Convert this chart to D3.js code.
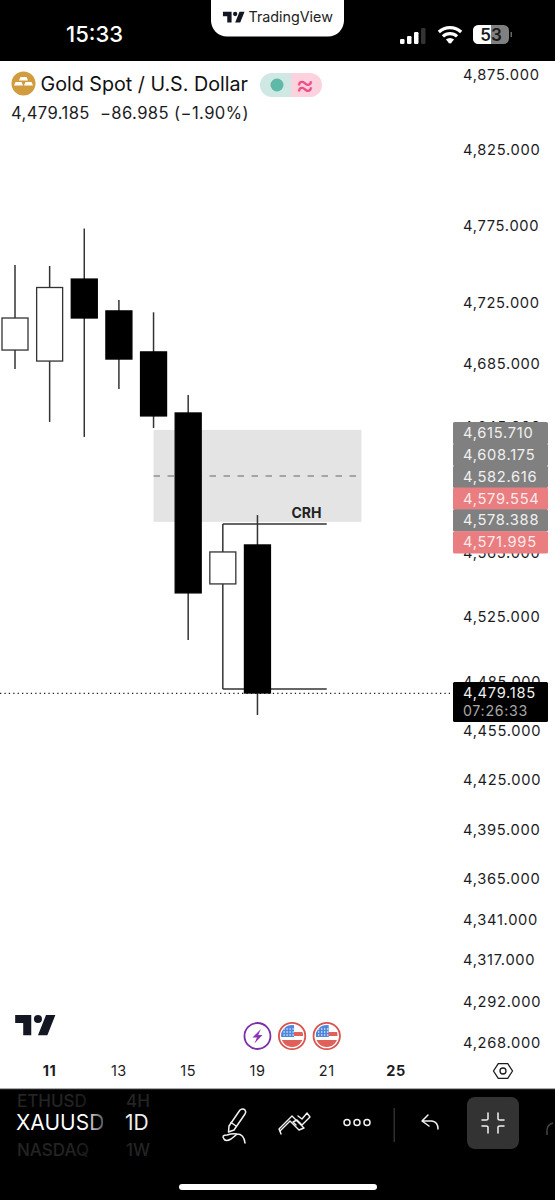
<!DOCTYPE html>
<html><head><meta charset="utf-8">
<script src="https://cdn.jsdelivr.net/npm/d3@7"></script>
<style>html,body{margin:0;padding:0;background:#fff}svg{display:block}text{font-family:Inter,"Noto Sans",sans-serif}</style>
</head><body><svg id="c" width="555" height="1200"></svg>
<script>
// ---- data ----
const slots=["10","11","12","13","14","15","16","19","20","21","22","25"];
const candleDays=["10","11","12","13","14","15","16","19"];
const opens=[4693.6,4686.5,4739.6,4718.9,4692.4,4653.2,4545.2,4569.6];
const highs=[4748.8,4748.1,4772.6,4726.0,4718.0,4664.7,4582.8,4588.4];
const lows=[4681.4,4647.5,4637.9,4668.6,4643.6,4510.3,4480.1,4464.1];
const closes=[4714.3,4734.1,4714.3,4687.8,4651.3,4539.6,4565.2,4477.6];
const priceTicks=[4875,4825,4775,4725,4685,4645,4605,4565,4525,4485,4455,4425,4395,4365,4341,4317,4292,4268];
const timeLabels=["11","13","15","19","21","25"];
const boldTimeLabels=["11","25"];
const zoneTop=4642.4, zoneMid=4613.1, zoneBottom=4584.1;
const zoneDays=["14","22"];
const crhHigh=4582.8, crhLow=4480.1, crhDays=["16","21"];
const lastPrice=4477.6;
const stackedTags=["4,615.710","4,608.175","4,582.616","4,579.554","4,578.388","4,571.995"];
const stackedKinds=["g","g","g","r","g","r"];
const eventDays=["19","20","21"];
const eventKinds=["bolt","flag","flag"];
const TV="M14 6H2v6h6v9h6V6Zm12 15h-7l6-15h7l-6 15Zm-7-9a3 3 0 1 0 0-6 3 3 0 0 0 0 6Z";

const svg=d3.select("#c");
const x=d3.scalePoint().domain(slots).range([15,396]);
const y=d3.scaleLog().domain([4875,4268]).range([74,1042]);
const fmt=d3.format(",.3f");
const ink="#1c1c1f";
const tickFont=14.7, tickLS=0.7;

// ---- price axis labels ----
const yAxis=d3.axisRight(y).tickValues(priceTicks).tickFormat(fmt).tickSize(0).tickPadding(0);
const ya=svg.append("g").attr("transform","translate(463,0.8)").call(yAxis);
ya.select(".domain").remove();
ya.selectAll("text").attr("font-size",tickFont).attr("letter-spacing",tickLS).attr("fill",ink).style("font-family","Inter");

// ---- zone ----
svg.append("rect").attr("x",x(zoneDays[0])).attr("width",x(zoneDays[1])-x(zoneDays[0]))
 .attr("y",y(zoneTop)).attr("height",y(zoneBottom)-y(zoneTop)).attr("fill","#e4e4e4");
svg.append("line").attr("x1",x(zoneDays[0])).attr("x2",x(zoneDays[1])).attr("y1",y(zoneMid)).attr("y2",y(zoneMid))
 .attr("stroke","#666").attr("stroke-width",1.1).attr("stroke-dasharray","6.500 7.500");

// ---- last price dotted ----
svg.append("line").attr("x1",0).attr("x2",450).attr("y1",y(lastPrice)+.3).attr("y2",y(lastPrice)+.3)
 .attr("stroke","#222").attr("stroke-width",1.2).attr("stroke-dasharray","1.3 3.1");

// ---- CRH lines ----
const cx0=x(crhDays[0]),cx1=x(crhDays[1]);
[crhHigh,crhLow].forEach(p=>svg.append("line").attr("x1",cx0).attr("x2",cx1).attr("y1",y(p)).attr("y2",y(p)).attr("stroke","#333").attr("stroke-width",1.4));
svg.append("text").attr("x",(x("20")+x("21"))/2-3).attr("y",y(crhHigh)-5.5).attr("text-anchor","middle").attr("font-size",14).attr("font-weight",700).attr("fill","#222").text("CRH");

// ---- candles ----
const cs=candleDays.map((d,i)=>({d,o:opens[i],h:highs[i],l:lows[i],c:closes[i]}));
const g=svg.append("g").selectAll("g").data(cs).join("g");
g.append("line").attr("x1",d=>x(d.d)).attr("x2",d=>x(d.d)).attr("y1",d=>y(d.h)).attr("y2",d=>y(d.l)).attr("stroke","#333").attr("stroke-width",1.5);
g.append("rect").attr("x",d=>x(d.d)-13).attr("width",26)
 .attr("y",d=>y(Math.max(d.o,d.c))).attr("height",d=>y(Math.min(d.o,d.c))-y(Math.max(d.o,d.c)))
 .attr("fill",d=>d.c>d.o?"#fff":"#000").attr("stroke",d=>d.c>d.o?"#333":"#000").attr("stroke-width",1.3);

// ---- stacked tags ----
const tagH=d3.scaleBand().domain(d3.range(stackedTags.length)).range([422,553]);
const tg=svg.append("g").selectAll("g").data(stackedTags).join("g");
tg.append("rect").attr("x",453).attr("width",95).attr("y",(d,i)=>tagH(i)).attr("height",tagH.bandwidth()+.4)
 .attr("rx",1.5).attr("fill",(d,i)=>stackedKinds[i]==="r"?"#e97d80":"#808080");
tg.append("text").attr("x",463).attr("y",(d,i)=>tagH(i)+tagH.bandwidth()/2).attr("dy","0.35em").attr("font-size",tickFont).attr("letter-spacing",tickLS)
 .attr("fill",(d,i)=>stackedKinds[i]==="r"?"#fdeaea":"#f0f0f0").text(d=>d);

// last price tag
svg.append("rect").attr("x",453).attr("y",682).attr("width",95).attr("height",40).attr("rx",1.5).attr("fill","#000");
svg.append("text").attr("x",463).attr("y",697.5).attr("font-size",tickFont).attr("letter-spacing",tickLS).attr("fill","#f0f0f0").text("4,479.185");
svg.append("text").attr("x",463).attr("y",715.5).attr("font-size",14.2).attr("letter-spacing",0.7).attr("fill","#a8a8a8").text("07:26:33");

// ---- time axis ----
const tx=svg.append("g").selectAll("text").data(timeLabels).join("text")
 .attr("x",d=>x(d)).attr("y",1076).attr("text-anchor","middle").attr("font-size",14.5).attr("letter-spacing",0.6)
 .attr("font-weight",d=>boldTimeLabels.includes(d)?700:400).attr("fill",ink).text(d=>d);

// hexagon
svg.append("path").attr("d",d3.line()(d3.range(6).map(i=>{const a=i*Math.PI/3;return [503+9.5*Math.cos(a),1071+8.5*Math.sin(a)]}))+"Z").attr("fill","none").attr("stroke",ink).attr("stroke-width",1.3);
svg.append("circle").attr("cx",503).attr("cy",1071).attr("r",3).attr("fill","none").attr("stroke",ink).attr("stroke-width",1.3);

// TV logo
svg.append("path").attr("d",TV).attr("transform","translate(12.5,1007) scale(1.34)").attr("fill","#131722");

// ---- events ----
const defs=svg.append("defs");
eventDays.forEach((d,i)=>{
  const cx=x(d),cy=1036;
  const e=svg.append("g");
  if(eventKinds[i]==="bolt"){
    e.append("circle").attr("cx",cx).attr("cy",cy).attr("r",13).attr("fill","#fff").attr("stroke","#7b2fa8").attr("stroke-width",1.8);
    e.append("path").attr("transform",`translate(${cx},${cy})`).attr("d","M3.500 -7L-5 1.500H-0.500L-3 7.500L5 -1H0.800Z").attr("fill","#8e35b5");
  } else {
    const id="cf"+i;
    defs.append("clipPath").attr("id",id).append("circle").attr("cx",cx).attr("cy",cy).attr("r",11);
    e.append("circle").attr("cx",cx).attr("cy",cy).attr("r",13.2).attr("fill","#fff").attr("stroke","#d9534f").attr("stroke-width",1.8);
    const f=e.append("g").attr("clip-path",`url(#${id})`);
    f.append("rect").attr("x",cx-11).attr("y",cy-4).attr("width",22).attr("height",4).attr("fill","#e0605a");
    f.append("rect").attr("x",cx-11).attr("y",cy+4).attr("width",22).attr("height",8).attr("fill","#e0605a");
    f.append("rect").attr("x",cx-11).attr("y",cy-11).attr("width",13).attr("height",12).attr("fill","#4f87dc");
    d3.range(3).forEach(r=>d3.range(4).forEach(c=>f.append("circle").attr("cx",cx-8+c*3).attr("cy",cy-7+r*3).attr("r",.7).attr("fill","#fff")));
  }
});

// ---- header ----
svg.append("circle").attr("cx",23.5).attr("cy",83.5).attr("r",12).attr("fill","#d09c3e");
svg.append("g").attr("fill","#fff").selectAll("path").data(["M20.500 77h6l1.500 3.600h-9z","M15.500 82h6l1.500 3.600h-9z","M25.500 82h6l1.500 3.600h-9z"]).join("path").attr("d",d=>d);
svg.append("text").attr("x",40.5).attr("y",91).attr("font-size",19.7).attr("fill","#111").text("Gold Spot / U.S. Dollar");
svg.append("text").attr("x",11).attr("y",119).attr("font-size",16.6).attr("letter-spacing",0.4).attr("fill",ink).style("white-space","pre").text("4,479.185  −86.985 (−1.90%)");
svg.append("path").attr("d","M291 73H272a12 12 0 0 0 0 24H291Z").attr("fill","#cfe8e3");
svg.append("path").attr("d","M291 73H310a12 12 0 0 1 0 24H291Z").attr("fill","#fdd2df");
svg.append("circle").attr("cx",277).attr("cy",85).attr("r",6.5).attr("fill","#5fb9a6");
svg.append("text").attr("x",305).attr("y",94).attr("text-anchor","middle").attr("font-size",28).attr("font-weight",400).attr("fill","#ee4f88").text("≈");

// ---- top bar ----
svg.append("rect").attr("x",0).attr("y",0).attr("width",555).attr("height",61).attr("fill","#000");
svg.append("path").attr("d","M211 0H344V20a16 16 0 0 1 -16 16.500H227a16 16 0 0 1 -16 -16.500Z").attr("fill","#fff");
svg.append("path").attr("d",TV).attr("transform","translate(221.5,7.5) scale(.72)").attr("fill","#131722");
svg.append("text").attr("x",248.5).attr("y",21.5).attr("font-size",14.3).attr("fill","#222").text("TradingView");
svg.append("text").attr("x",66).attr("y",42).attr("font-size",22).attr("font-weight",500).attr("fill","#fff").text("15:33");
const bars=[[400,39,4.5,5],[407,36,4.5,8],[414,32,4.5,12],[421,28,4.5,16]];
svg.append("g").selectAll("rect").data(bars).join("rect").attr("x",d=>d[0]).attr("y",d=>d[1]).attr("width",d=>d[2]).attr("height",d=>d[3]).attr("rx",1.2).attr("fill",(d,i)=>i===3?"#333":"#fff");
[[18,3.2],[12,3.2],[6,3.2]].forEach(([r,w])=>{
  svg.append("path").attr("d",d3.arc()({innerRadius:r-w,outerRadius:r,startAngle:-Math.PI/4.2,endAngle:Math.PI/4.2})).attr("transform","translate(450,44)").attr("fill","#fff");
});
svg.append("circle").attr("cx",450).attr("cy",41.5).attr("r",2).attr("fill","#fff");
svg.append("rect").attr("x",473).attr("y",25).attr("width",36).attr("height",19).attr("rx",5.5).attr("fill","#808080");
svg.append("path").attr("d","M491 25H478.500a5.500 5.500 0 0 0 -5.500 5.500V38.500a5.500 5.500 0 0 0 5.500 5.500H491Z").attr("fill","#fff");
svg.append("text").attr("x",491).attr("y",40.5).attr("text-anchor","middle").attr("font-size",17).attr("font-weight",600).attr("fill","#1a1a1a").text("53");
svg.append("rect").attr("x",510.5).attr("y",32).attr("width",1.5).attr("height",5).attr("fill","#666");

// ---- bottom toolbar ----
svg.append("rect").attr("x",0).attr("y",1088).attr("width",555).attr("height",112).attr("fill","#000");
svg.append("rect").attr("x",0).attr("y",1088).attr("width",555).attr("height",1.2).attr("fill","#aaa");
const grad=defs.append("linearGradient").attr("id","fade").attr("gradientUnits","userSpaceOnUse").attr("x1",85).attr("x2",104).attr("y1",0).attr("y2",0);
grad.append("stop").attr("offset",0).attr("stop-color","#fff");grad.append("stop").attr("offset",1).attr("stop-color","#555");
const gd=defs.append("linearGradient").attr("id","fadeD").attr("gradientUnits","userSpaceOnUse").attr("x1",70).attr("x2",104).attr("y1",0).attr("y2",0);
gd.append("stop").attr("offset",0).attr("stop-color","#242424");gd.append("stop").attr("offset",1).attr("stop-color","#101010");
defs.append("clipPath").attr("id","sym").append("rect").attr("x",0).attr("y",1088).attr("width",103).attr("height",112);
const sym=svg.append("g").attr("clip-path","url(#sym)");
sym.append("text").attr("x",16).attr("y",1130).attr("font-size",21).attr("font-weight",400).attr("fill","url(#fade)").text("XAUUSD");
sym.append("text").attr("x",17).attr("y",1107).attr("font-size",17).attr("font-weight",500).attr("fill","url(#fadeD)").text("ETHUSD");
sym.append("text").attr("x",17).attr("y",1156).attr("font-size",17).attr("font-weight",500).attr("fill","url(#fadeD)").text("NASDAQ");
svg.append("text").attr("x",125).attr("y",1130).attr("font-size",21).attr("font-weight",400).attr("fill","#eee").text("1D");
svg.append("text").attr("x",126).attr("y",1107).attr("font-size",17).attr("font-weight",500).attr("fill","#242424").text("4H");
svg.append("text").attr("x",126).attr("y",1156).attr("font-size",17).attr("font-weight",500).attr("fill","#242424").text("1W");
svg.append("rect").attr("x",393.5).attr("y",1108).attr("width",1.5).attr("height",34).attr("fill","#2e2e2e");
svg.append("rect").attr("x",467).attr("y",1097).attr("width",52).attr("height",52).attr("rx",8).attr("fill","#333");
const ic=svg.append("g").attr("fill","none").attr("stroke","#f2f2f2").attr("stroke-width",1.5).attr("stroke-linecap","round").attr("stroke-linejoin","round");
ic.append("path").attr("d","M229 1126L240 1110Q243 1108 245 1110Q246.500 1112 245 1114L234 1130L228.500 1132Z");
ic.append("path").attr("d","M236 1126L231 1122.500");
ic.append("path").attr("d","M224 1139Q221 1135 227 1135Q233 1133 237 1134Q244 1134 245 1143M224 1139Q226 1142 231 1139Q235 1136 237 1134");
ic.append("path").attr("d","M281 1134L280 1131L290 1121L299 1130L304 1128L292 1116L279 1129Z").attr("stroke-width",1.4);
ic.append("path").attr("d","M296 1125L293 1122L297 1120L302 1125L310 1117L307 1113L302 1119L298 1116").attr("stroke-width",1.4);
[347,357,367].forEach(cx=>ic.append("circle").attr("cx",cx).attr("cy",1122.5).attr("r",3));
ic.append("path").attr("d","M428 1115L422 1121L429 1126M422 1121H432Q438 1122 438 1129");
ic.append("path").attr("d","M488 1119V1113M488 1119Q488 1120 486 1120H482M498 1119V1113M498 1119Q498 1120 500 1120H504M488 1127V1133M488 1127Q488 1126 486 1126H482M498 1127V1133M498 1127Q498 1126 500 1126H504");
svg.append("path").attr("d","M547 1135V1130Q547 1125 553 1123").attr("fill","none").attr("stroke","#444").attr("stroke-width",1.5);
svg.append("rect").attr("x",179).attr("y",1184).attr("width",198).attr("height",6).attr("rx",3).attr("fill","#fff");
</script></body></html>
